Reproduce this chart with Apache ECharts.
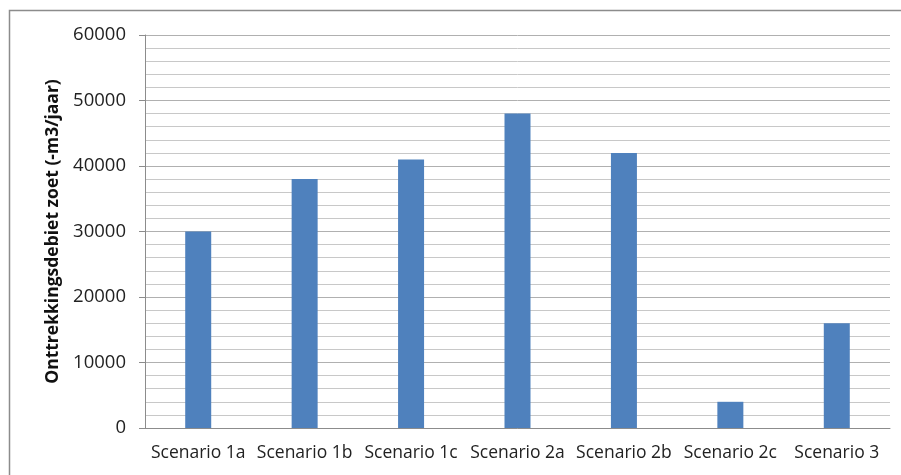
<!DOCTYPE html>
<html>
<head>
<meta charset="utf-8">
<script src="https://cdn.jsdelivr.net/npm/echarts@6/dist/echarts.min.js"></script>
<style>html,body{margin:0;padding:0;background:#fff}#c{width:901px;height:475px}</style>
</head>
<body>
<div id="c"></div>
<script>
var categories = ['Scenario 1a', 'Scenario 1b', 'Scenario 1c', 'Scenario 2a', 'Scenario 2b', 'Scenario 2c', 'Scenario 3'];
var values = [30000, 38000, 41000, 48000, 42000, 4000, 16000];
var yTitle = 'Onttrekkingsdebiet zoet (-m3/jaar)';
var yMin = 0, yMax = 60000, yInterval = 10000, ySplits = 5;

var chart = echarts.init(document.getElementById('c'), null, {renderer: 'canvas'});
var font = '"Open Sans", "Liberation Sans", sans-serif';
chart.setOption({
  animation: false,
  backgroundColor: '#fff',
  graphic: [{
    type: 'rect', shape: {x: 9.5, y: 10.5, width: 900, height: 480},
    style: {fill: 'none', stroke: '#8c8c8c', lineWidth: 1.5}, silent: true
  }],
  grid: {left: 145, right: 11, top: 35, bottom: 47, containLabel: false},
  xAxis: {
    type: 'category', data: categories,
    axisLine: {show: true, lineStyle: {color: '#8c8c8c', width: 1}},
    axisTick: {show: false},
    axisLabel: {color: '#222', fontSize: 17.5, fontFamily: font, margin: 16, interval: 0}
  },
  yAxis: {
    type: 'value', min: yMin, max: yMax, interval: yInterval,
    name: yTitle, nameLocation: 'middle', nameGap: 83,
    nameTextStyle: {color: '#111', fontSize: 17.5, fontWeight: 'bold', fontFamily: font},
    axisLine: {show: true, lineStyle: {color: '#8c8c8c', width: 1}},
    axisTick: {show: true, length: 6, lineStyle: {color: '#8c8c8c'}},
    axisLabel: {color: '#222', fontSize: 18.5, fontFamily: font, margin: 19,
      formatter: function (v) { return String(v); }},
    splitLine: {show: true, lineStyle: {color: '#b0b0b0', width: 1}},
    minorTick: {show: false, splitNumber: ySplits},
    minorSplitLine: {show: true, lineStyle: {color: '#c8c8c8', width: 1}}
  },
  series: [{
    type: 'bar', data: values, barWidth: 26,
    itemStyle: {color: '#4f81bd'}
  }]
});
</script>
</body>
</html>
